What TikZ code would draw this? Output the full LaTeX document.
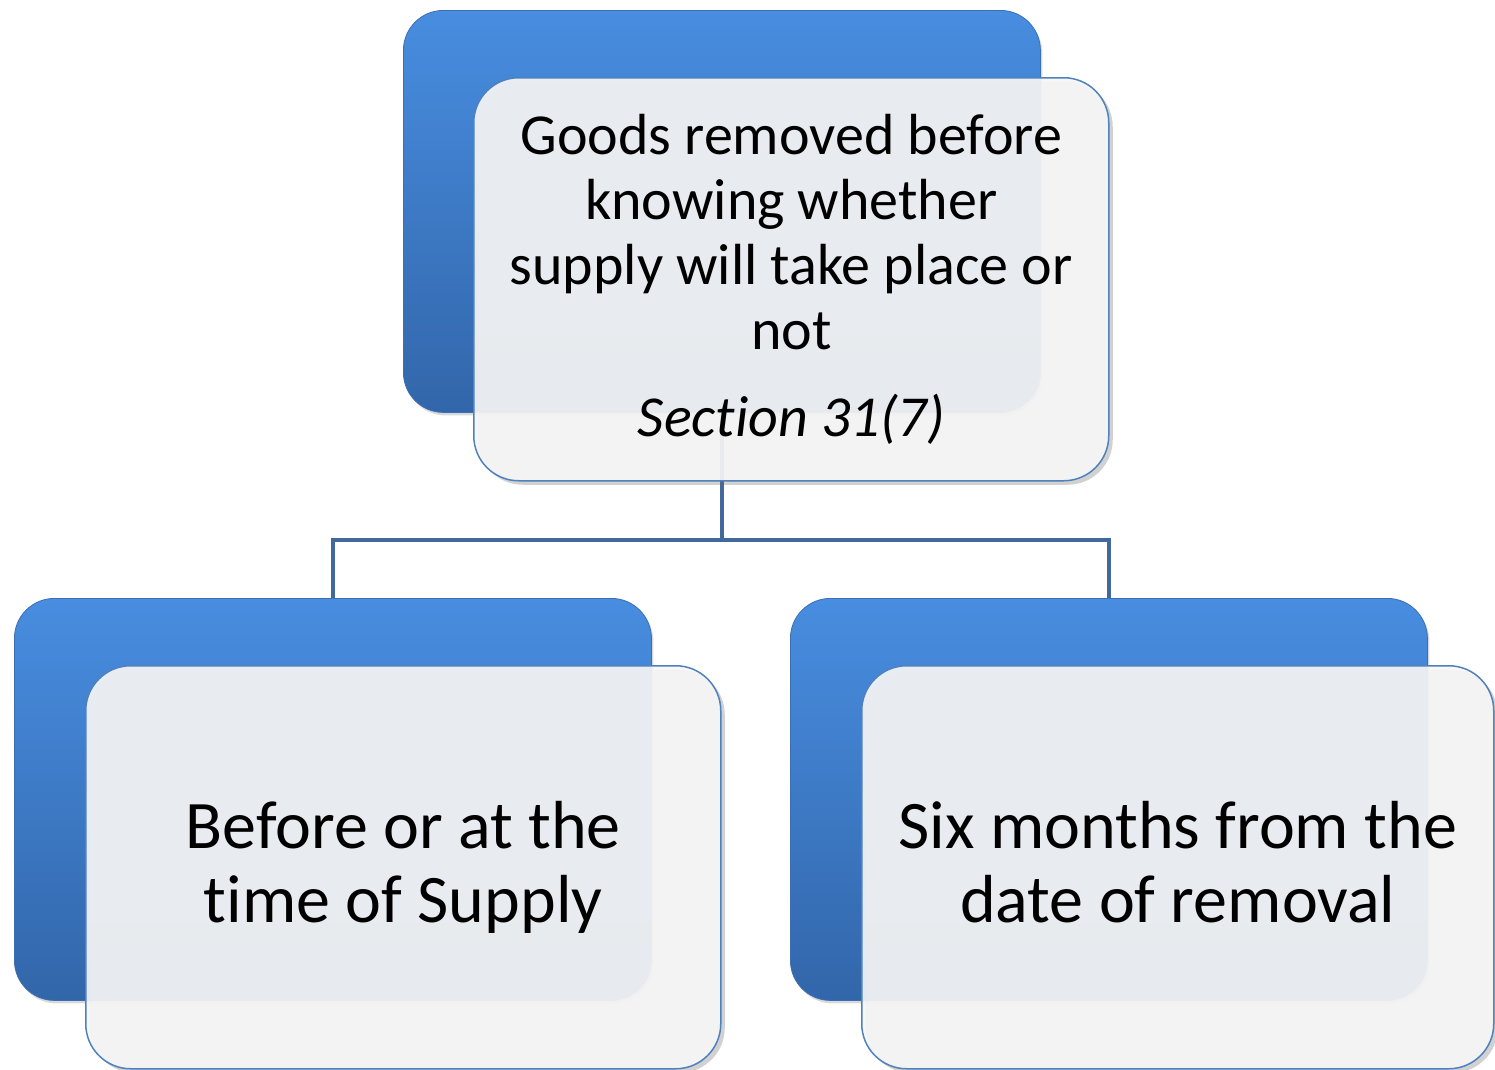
\documentclass[tikz,border=0pt]{standalone}
\usepackage{fontspec}
\setmainfont[Ligatures=NoCommon]{Carlito}
\usetikzlibrary{shadows}
\definecolor{bluetop}{RGB}{72,141,224}
\definecolor{bluebot}{RGB}{50,102,170}
\definecolor{blueedge}{RGB}{60,110,180}
\definecolor{frontfill}{RGB}{246,246,246}
\definecolor{frontedge}{RGB}{79,129,189}
\definecolor{linkcol}{RGB}{65,105,158}
\begin{document}
\begin{tikzpicture}[x=1pt,y=-1pt,
  backbox/.style={rounded corners=40pt, minimum width=637pt, minimum height=402pt,
    anchor=north west, inner sep=0pt, top color=bluetop, bottom color=bluebot,
    draw=blueedge, line width=0.8pt,
    drop shadow={shadow xshift=2pt, shadow yshift=-3pt, opacity=0.3}},
  frontbox/.style={rounded corners=45pt, minimum width=635pt, minimum height=403pt,
    anchor=north west, inner sep=0pt, fill=frontfill, fill opacity=0.92, text opacity=1,
    draw=frontedge, draw opacity=1, line width=1.5pt, align=center, text=black,
    drop shadow={shadow xshift=4pt, shadow yshift=-4pt, opacity=0.3, fill=black!60}},
  link/.style={draw=linkcol, line width=4pt},
  toptext/.style={font=\fontsize{58}{65}\selectfont},
  lowtext/.style={font=\fontsize{68}{74}\selectfont}]
\useasboundingbox (0,0) rectangle (1495,1069);
% back boxes
\node[backbox] (topback) at (403,10) {};
\node[backbox] (lback) at (14,598) {};
\node[backbox] (rback) at (790,598) {};
% connectors
\coordinate (bus) at (720,540);
\draw[link] (topback.south) -- (topback.south |- bus) -| (lback.north);
\draw[link] (topback.south |- bus) -| (rback.north);
% front boxes
\node[frontbox, toptext] (topfront) at (473,77)
  {Goods removed before\\ knowing whether\\ supply will take place or\\ not\\[22pt] \itshape Section 31(7)};
\node[frontbox, lowtext] (lfront) at (85,665) {Before or at the\\ time of Supply};
\node[frontbox, lowtext, minimum width=632pt] (rfront) at (861,665) {Six months from the\\ date of removal\vphantom{y}};
\end{tikzpicture}
\end{document}
